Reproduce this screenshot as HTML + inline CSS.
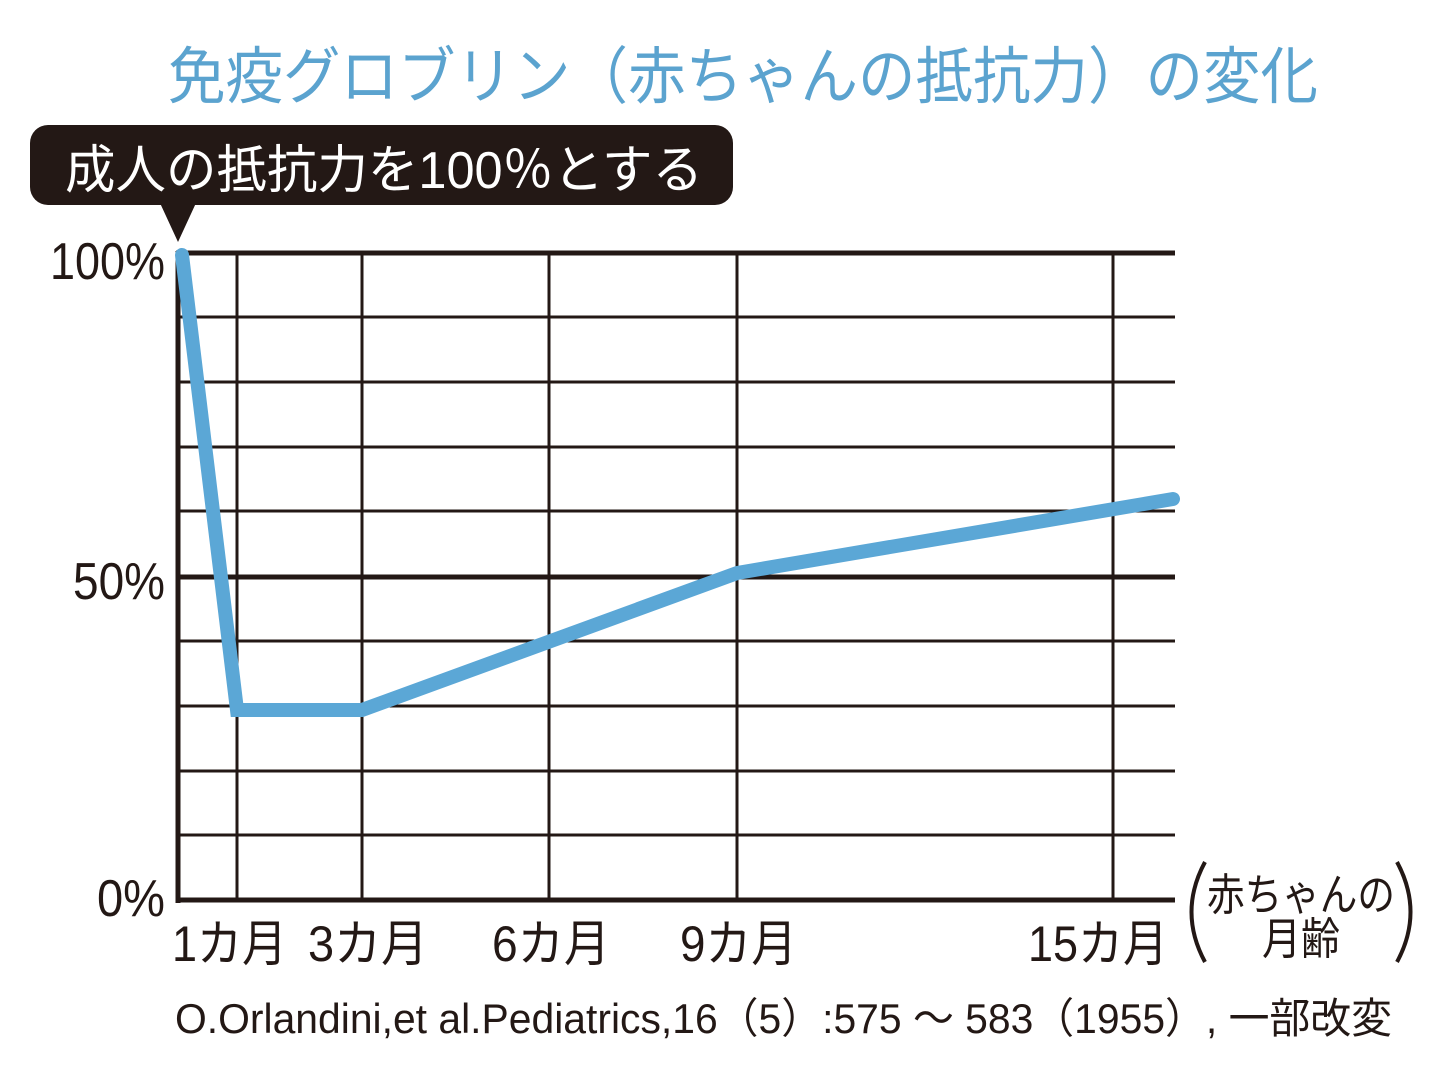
<!DOCTYPE html>
<html><head><meta charset="utf-8"><style>
html,body{margin:0;padding:0;background:#fff;}
svg{display:block;}
text{font-family:"Liberation Sans","Noto Sans CJK JP",sans-serif;}
</style></head><body>
<svg width="1440" height="1080" viewBox="0 0 1440 1080" xmlns="http://www.w3.org/2000/svg">
<rect width="1440" height="1080" fill="#fff"/>
<text x="168" y="98" font-size="62" fill="#5ba3cf" textLength="1150" lengthAdjust="spacingAndGlyphs">免疫グロブリン（赤ちゃんの抵抗力）の変化</text>
<rect x="30" y="125" width="703" height="80" rx="18" fill="#231815"/>
<polygon points="160,203 196,203 178,242" fill="#231815"/>
<text x="65" y="188" font-size="52" fill="#fff" textLength="638" lengthAdjust="spacingAndGlyphs">成人の抵抗力を100％とする</text>
<g stroke="#231815" stroke-width="3">
<line x1="178" y1="317" x2="1175" y2="317"/>
<line x1="178" y1="382" x2="1175" y2="382"/>
<line x1="178" y1="447" x2="1175" y2="447"/>
<line x1="178" y1="511" x2="1175" y2="511"/>
<line x1="178" y1="641" x2="1175" y2="641"/>
<line x1="178" y1="706" x2="1175" y2="706"/>
<line x1="178" y1="771" x2="1175" y2="771"/>
<line x1="178" y1="835" x2="1175" y2="835"/>
<line x1="237" y1="253" x2="237" y2="900"/>
<line x1="362" y1="253" x2="362" y2="900"/>
<line x1="549" y1="253" x2="549" y2="900"/>
<line x1="737" y1="253" x2="737" y2="900"/>
<line x1="1113" y1="253" x2="1113" y2="900"/>
</g>
<g stroke="#231815" stroke-width="5">
<line x1="176" y1="253" x2="1175" y2="253"/>
<line x1="176" y1="577" x2="1175" y2="577"/>
<line x1="176" y1="900" x2="1175" y2="900"/>
<line x1="178" y1="251" x2="178" y2="903"/>
</g>
<polyline points="182,255 237,710 362,710 737,573 1173,499" fill="none" stroke="#5ba7d6" stroke-width="14" stroke-linejoin="miter" stroke-linecap="round"/>
<g fill="#231815" font-size="52">
<text x="50" y="279" textLength="115" lengthAdjust="spacingAndGlyphs">100%</text>
<text x="73" y="599" textLength="92" lengthAdjust="spacingAndGlyphs">50%</text>
<text x="97" y="916" textLength="68" lengthAdjust="spacingAndGlyphs">0%</text>
</g>
<g fill="#231815" font-size="50">
<text x="172" y="961" textLength="115" lengthAdjust="spacingAndGlyphs">1カ月</text>
<text x="308" y="961" textLength="120" lengthAdjust="spacingAndGlyphs">3カ月</text>
<text x="492" y="961" textLength="118" lengthAdjust="spacingAndGlyphs">6カ月</text>
<text x="680" y="961" textLength="117" lengthAdjust="spacingAndGlyphs">9カ月</text>
<text x="1028" y="961" textLength="140" lengthAdjust="spacingAndGlyphs">15カ月</text>
</g>
<g fill="#231815" font-size="44">
<text x="1207" y="910" textLength="188" lengthAdjust="spacingAndGlyphs">赤ちゃんの</text>
<text x="1262" y="954" textLength="78" lengthAdjust="spacingAndGlyphs">月齢</text>
</g>
<path d="M1205,862 Q1178,912 1205,962" fill="none" stroke="#231815" stroke-width="4"/>
<path d="M1397,862 Q1424,912 1397,962" fill="none" stroke="#231815" stroke-width="4"/>
<text x="175" y="1033" font-size="42" fill="#231815" textLength="1217" lengthAdjust="spacingAndGlyphs">O.Orlandini,et al.Pediatrics,16（5）:575 ～ 583（1955）, 一部改変</text>
</svg>
</body></html>
